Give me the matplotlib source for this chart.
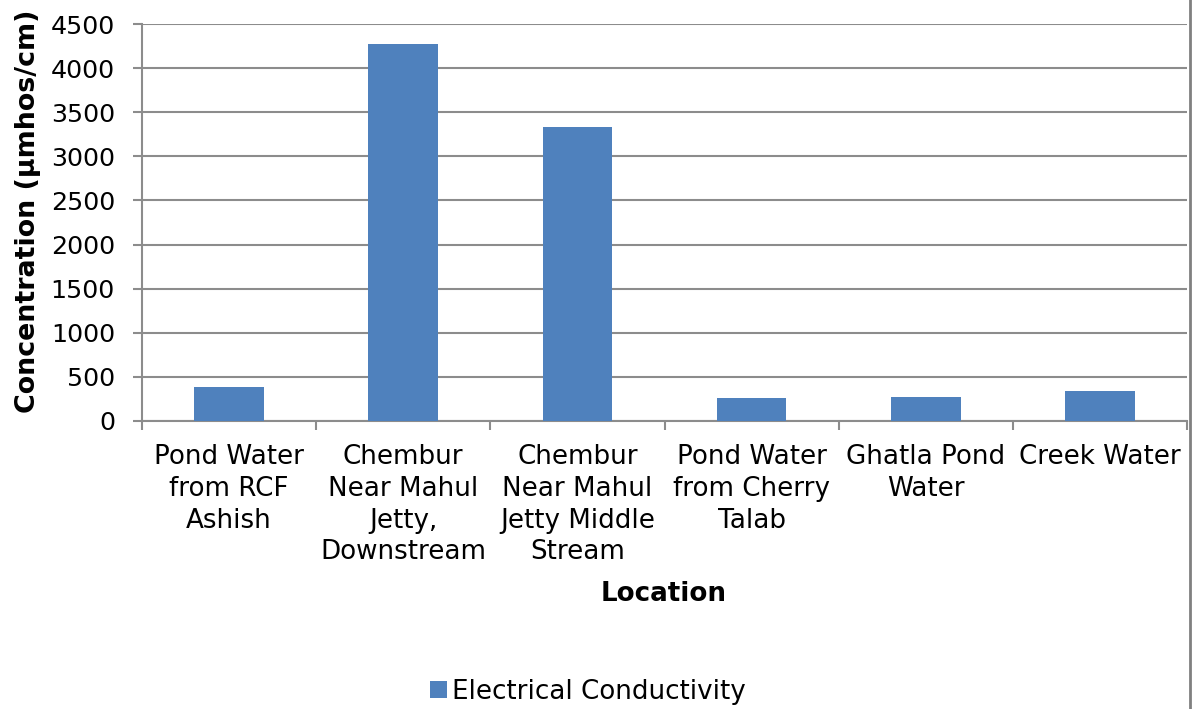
import numpy as np
import matplotlib.pyplot as plt
from matplotlib.lines import Line2D

# --------------------------------------------------
# Data
# --------------------------------------------------

locations = [
    "Pond Water\nfrom RCF\nAshish",
    "Chembur\nNear Mahul\nJetty,\nDownstream",
    "Chembur\nNear Mahul\nJetty Middle\nStream",
    "Pond Water\nfrom Cherry\nTalab",
    "Ghatla Pond\nWater",
    "Creek Water",
]
conductivity = [380, 4270, 3330, 260, 270, 340]  # µmhos/cm
y_ticks = [0, 500, 1000, 1500, 2000, 2500, 3000, 3500, 4000, 4500]

bar_color = "#4F81BD"
grid_color = "#8C8C8C"

# --------------------------------------------------
# Plot
# --------------------------------------------------

plt.rcParams["font.family"] = ["DejaVu Sans"]

fig = plt.figure(figsize=(11.95, 7.09), dpi=100)
ax = fig.add_axes([142 / 1195, 1 - 421 / 709, (1187 - 142) / 1195, (421 - 24) / 709])

x = np.arange(len(locations))
ax.bar(x, conductivity, width=0.4, color=bar_color, zorder=3,
       label="Electrical Conductivity")

ax.set_xlim(-0.5, len(locations) - 0.5)
ax.set_ylim(0, 4500)
ax.set_yticks(y_ticks)
ax.set_yticklabels([str(v) for v in y_ticks], fontsize=18.3)
ax.yaxis.grid(True, color=grid_color, linewidth=1.5, zorder=0)

# category boundaries as tick marks, labels centred in each slot
ax.set_xticks(np.arange(len(locations) + 1) - 0.5)
ax.set_xticklabels([])
ax.set_xticks(x, minor=True)
ax.set_xticklabels(locations, minor=True, fontsize=18.8, linespacing=1.29,
                   va="top", ha="center")
ax.tick_params(axis="x", which="minor", length=0, pad=16.5)
ax.tick_params(axis="x", which="major", length=6.5, width=1.5, color=grid_color)
ax.tick_params(axis="y", length=6.5, width=1.5, color=grid_color, pad=13)

for side in ["top", "right"]:
    ax.spines[side].set_visible(False)
for side in ["left", "bottom"]:
    ax.spines[side].set_color(grid_color)
    ax.spines[side].set_linewidth(1.5)

ax.set_ylabel("Concentration (µmhos/cm)", fontsize=19.4, fontweight="bold")
ax.yaxis.set_label_coords(-0.097, 0.527)
fig.text(664 / 1195, 1 - 594 / 709, "Location", fontsize=18.8,
         fontweight="bold", ha="center", va="center")

fig.legend(loc="center", bbox_to_anchor=(588 / 1195, 1 - 692 / 709),
           frameon=False, fontsize=18.8, handlelength=0.62, handleheight=0.62,
           handletextpad=0.2)

# outer chart border on the right edge
fig.add_artist(Line2D([1190 / 1195, 1190 / 1195], [0, 1],
                      transform=fig.transFigure, color="#808080", linewidth=2))

fig.savefig("out.png", dpi=100)
